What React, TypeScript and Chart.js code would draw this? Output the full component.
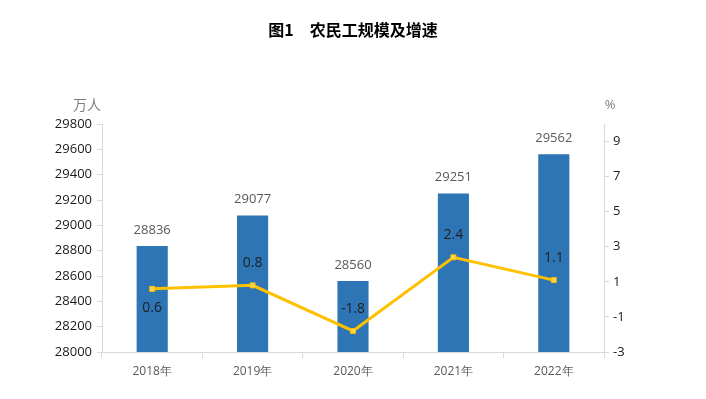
import React, { useEffect, useRef } from "react";
import { Chart, registerables } from "chart.js";

Chart.register(...registerables);

const categories = ["2018年", "2019年", "2020年", "2021年", "2022年"];
const workers = [28836, 29077, 28560, 29251, 29562];
const growth = [0.6, 0.8, -1.8, 2.4, 1.1];
const growthLabelBelow = [true, false, false, false, false];
const leftTicks = [28000, 28200, 28400, 28600, 28800, 29000, 29200, 29400, 29600, 29800];
const rightTicks = [-3, -1, 1, 3, 5, 7, 9];
const titleText = "图1\u3000农民工规模及增速";
const leftUnit = "万人";
const rightUnit = "%";

const W = 706;
const H = 399;

const labelPlugin = {
  id: "customLabels",
  afterDatasetsDraw(chart: any) {
    const ctx = chart.ctx;
    ctx.save();
    const barMeta = chart.getDatasetMeta(0);
    ctx.font = "13px 'Open Sans', 'Liberation Sans', sans-serif";
    ctx.fillStyle = "#595959";
    ctx.textAlign = "center";
    ctx.textBaseline = "middle";
    barMeta.data.forEach((el: any, i: number) => {
      ctx.fillText(String(workers[i]), el.x, el.y - 16);
    });
    const lineMeta = chart.getDatasetMeta(1);
    ctx.font = "14px 'Open Sans', 'Liberation Sans', sans-serif";
    ctx.fillStyle = "#1f1f1f";
    lineMeta.data.forEach((el: any, i: number) => {
      const dy = growthLabelBelow[i] ? 19 : -22;
      ctx.fillText(String(growth[i]), el.x, el.y + dy);
    });
    ctx.restore();
  },
  afterDraw(chart: any) {
    const ctx = chart.ctx;
    ctx.save();
    ctx.textAlign = "center";
    ctx.textBaseline = "middle";
    ctx.fillStyle = "#000";
    ctx.font = "bold 16px 'Noto Sans CJK SC', serif";
    ctx.fillText(titleText, W / 2, 30);
    ctx.fillStyle = "#7f7f7f";
    ctx.font = "14px 'Noto Sans CJK SC', sans-serif";
    ctx.fillText(leftUnit, 87, 105);
    ctx.font = "13px 'Open Sans', 'Liberation Sans', sans-serif";
    ctx.fillText(rightUnit, 610, 105);
    ctx.restore();
  },
};

export default function App() {
  const ref = useRef<HTMLCanvasElement | null>(null);
  useEffect(() => {
    if (!ref.current) return;
    const tickFont = { size: 12, family: "'Open Sans', 'Liberation Sans', sans-serif" };
    const yTickFont = { size: 13, weight: "500" as any, family: "'Open Sans', 'Liberation Sans', sans-serif" };
    const chart = new Chart(ref.current, {
      type: "bar",
      data: {
        labels: categories,
        datasets: [
          {
            type: "bar",
            data: workers,
            backgroundColor: "#2E75B6",
            yAxisID: "y",
            barPercentage: 0.62,
            categoryPercentage: 0.5,
            order: 2,
          },
          {
            type: "line",
            data: growth,
            borderColor: "#FFC000",
            borderWidth: 3,
            pointStyle: "rect",
            pointRadius: 3.5,
            pointBackgroundColor: "#FFD54F",
            pointBorderColor: "#FFC000",
            pointBorderWidth: 1,
            yAxisID: "y1",
            order: 1,
          } as any,
        ],
      },
      options: {
        responsive: false,
        animation: false,
        layout: { padding: { top: 124, left: 0, right: 0, bottom: 0 } },
        plugins: {
          legend: { display: false },
          tooltip: { enabled: false },
          title: { display: false },
        },
        scales: {
          x: {
            offset: true,
            grid: {
              offset: true,
              drawOnChartArea: false,
              drawTicks: true,
              tickLength: 6,
              color: "#d9d9d9",
            },
            border: { display: true, color: "#d9d9d9" },
            ticks: { color: "#595959", font: tickFont, padding: 6, maxRotation: 0 },
            afterFit(scale: any) {
              scale.height = H - 352;
            },
          },
          y: {
            position: "left",
            min: 28000,
            max: 29800,
            afterBuildTicks(axis: any) {
              axis.ticks = leftTicks.map((v) => ({ value: v }));
            },
            grid: {
              drawOnChartArea: false,
              drawTicks: true,
              tickLength: 5,
              color: "#d9d9d9",
            },
            border: { display: true, color: "#d9d9d9" },
            ticks: {
              color: "#1a1a1a",
              font: yTickFont,
              padding: 5,
              callback: (v: any) => String(v),
            },
            afterFit(scale: any) {
              scale.width = 102;
            },
          },
          y1: {
            position: "right",
            min: -3,
            max: 10,
            afterBuildTicks(axis: any) {
              axis.ticks = rightTicks.map((v) => ({ value: v }));
            },
            grid: {
              drawOnChartArea: false,
              drawTicks: true,
              tickLength: 5,
              color: "#d9d9d9",
            },
            border: { display: true, color: "#d9d9d9" },
            ticks: {
              color: "#1a1a1a",
              font: yTickFont,
              padding: 4,
              callback: (v: any) => String(v),
            },
            afterFit(scale: any) {
              scale.width = W - 604;
            },
          },
        },
      },
      plugins: [labelPlugin],
    });
    return () => chart.destroy();
  }, []);
  return (
    <div style={{ position: "absolute", left: 0, top: 0, width: W, height: H, background: "#fff" }}>
      <canvas ref={ref} width={W} height={H} style={{ width: W, height: H, display: "block" }} />
    </div>
  );
}
